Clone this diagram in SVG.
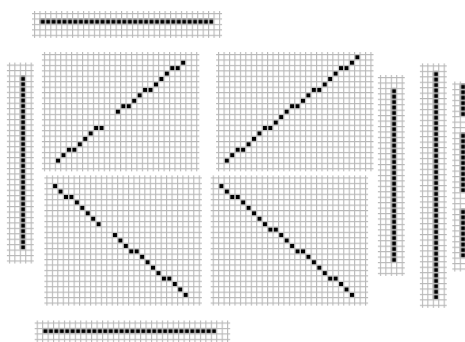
<svg xmlns="http://www.w3.org/2000/svg" width="465" height="342" viewBox="0 0 465 342">
<defs>
<pattern id="grid" width="1" height="1" patternUnits="userSpaceOnUse"><path d="M0 0h1v.2H.2V1H0z" fill="#b8b8b8"/></pattern>
<pattern id="sq" width="1" height="1" patternUnits="userSpaceOnUse"><rect x=".23" y=".23" width=".74" height=".74" fill="#000"/></pattern>
<rect id="s" x=".23" y=".23" width=".74" height=".74" fill="#000"/>
</defs>
<style>.bg{fill:url(#grid)}.run{fill:url(#sq)}</style>
<rect width="465" height="342" fill="#fff"/>

<g id="bar-top" transform="translate(34 13) scale(5.44)">
<rect class="bg" x="-.37" y="-.37" width="34.94" height="4.94"/>
<rect class="run" x="1" y="1" width="32" height="1"/>
</g>

<g id="bar-bottom" transform="translate(36.7 322.5) scale(5.44)">
<rect class="bg" x="-.37" y="-.37" width="35.94" height="4.94"/>
<rect class="run" x="1" y="1" width="32" height="1"/>
</g>

<g id="bar-left" transform="translate(8.9 64.6) scale(5.44)">
<rect class="bg" x="-.37" y="-.37" width="4.94" height="36.94"/>
<rect class="run" x="2" y="2" width="1" height="32"/>
</g>

<g id="bar-right-a" transform="translate(379.9 77) scale(5.44)">
<rect class="bg" x="-.37" y="-.37" width="4.94" height="36.94"/>
<rect class="run" x="2" y="2" width="1" height="32"/>
</g>

<g id="bar-right-b" transform="translate(421.9 65.4) scale(5.44)">
<rect class="bg" x="-.37" y="-.37" width="4.94" height="44.94"/>
<rect class="run" x="2" y="1" width="1" height="42"/>
</g>

<g id="bar-right-c" transform="translate(454.3 83.5) scale(5.44)">
<rect class="bg" x="-.37" y="-.37" width="4.94" height="34.94"/>
<rect class="run" x="1" y="0" width="1" height="6"/>
<rect class="run" x="1" y="9" width="1" height="11"/>
<rect class="run" x="1" y="23" width="1" height="9"/>
</g>

<g id="grid-1" transform="translate(43.9 54) scale(5.44)">
<rect class="bg" x="-.37" y="-.37" width="28.94" height="21.94"/>
<use href="#s" x="2" y="19"/><use href="#s" x="3" y="18"/><use href="#s" x="4" y="17"/><use href="#s" x="5" y="17"/>
<use href="#s" x="6" y="16"/><use href="#s" x="7" y="15"/><use href="#s" x="8" y="14"/><use href="#s" x="9" y="13"/>
<use href="#s" x="10" y="13"/><use href="#s" x="13" y="10"/><use href="#s" x="14" y="9"/><use href="#s" x="15" y="9"/>
<use href="#s" x="16" y="8"/><use href="#s" x="17" y="7"/><use href="#s" x="18" y="6"/><use href="#s" x="19" y="6"/>
<use href="#s" x="20" y="5"/><use href="#s" x="21" y="4"/><use href="#s" x="22" y="3"/><use href="#s" x="23" y="2"/>
<use href="#s" x="24" y="2"/><use href="#s" x="25" y="1"/>
</g>

<g id="grid-2" transform="translate(218.1 54) scale(5.44)">
<rect class="bg" x="-.37" y="-.37" width="28.94" height="21.94"/>
<use href="#s" x="1" y="19"/><use href="#s" x="2" y="18"/><use href="#s" x="3" y="17"/><use href="#s" x="4" y="17"/>
<use href="#s" x="5" y="16"/><use href="#s" x="6" y="15"/><use href="#s" x="7" y="14"/><use href="#s" x="8" y="13"/>
<use href="#s" x="9" y="13"/><use href="#s" x="10" y="12"/><use href="#s" x="11" y="11"/><use href="#s" x="12" y="10"/>
<use href="#s" x="13" y="9"/><use href="#s" x="14" y="9"/><use href="#s" x="15" y="8"/><use href="#s" x="16" y="7"/>
<use href="#s" x="17" y="6"/><use href="#s" x="18" y="6"/><use href="#s" x="19" y="5"/><use href="#s" x="20" y="4"/>
<use href="#s" x="21" y="3"/><use href="#s" x="22" y="2"/><use href="#s" x="23" y="2"/><use href="#s" x="24" y="1"/>
<use href="#s" x="25" y="0"/>
</g>

<g id="grid-3" transform="translate(46.4 177.4) scale(5.44)">
<rect class="bg" x="-.37" y="-.37" width="28.94" height="23.94"/>
<use href="#s" x="1" y="1"/><use href="#s" x="2" y="2"/><use href="#s" x="3" y="3"/><use href="#s" x="4" y="3"/>
<use href="#s" x="5" y="4"/><use href="#s" x="6" y="5"/><use href="#s" x="7" y="6"/><use href="#s" x="8" y="7"/>
<use href="#s" x="9" y="8"/><use href="#s" x="12" y="10"/><use href="#s" x="13" y="11"/><use href="#s" x="14" y="12"/>
<use href="#s" x="15" y="13"/><use href="#s" x="16" y="13"/><use href="#s" x="17" y="14"/><use href="#s" x="18" y="15"/>
<use href="#s" x="19" y="16"/><use href="#s" x="20" y="17"/><use href="#s" x="21" y="18"/><use href="#s" x="22" y="18"/>
<use href="#s" x="23" y="19"/><use href="#s" x="24" y="20"/><use href="#s" x="25" y="21"/>
</g>

<g id="grid-4" transform="translate(212.7 177.4) scale(5.44)">
<rect class="bg" x="-.37" y="-.37" width="28.94" height="23.94"/>
<use href="#s" x="1" y="1"/><use href="#s" x="2" y="2"/><use href="#s" x="3" y="3"/><use href="#s" x="4" y="3"/>
<use href="#s" x="5" y="4"/><use href="#s" x="6" y="5"/><use href="#s" x="7" y="6"/><use href="#s" x="8" y="7"/>
<use href="#s" x="9" y="8"/><use href="#s" x="10" y="9"/><use href="#s" x="11" y="9"/><use href="#s" x="12" y="10"/>
<use href="#s" x="13" y="11"/><use href="#s" x="14" y="12"/><use href="#s" x="15" y="13"/><use href="#s" x="16" y="13"/>
<use href="#s" x="17" y="14"/><use href="#s" x="18" y="15"/><use href="#s" x="19" y="16"/><use href="#s" x="20" y="17"/>
<use href="#s" x="21" y="18"/><use href="#s" x="22" y="18"/><use href="#s" x="23" y="19"/><use href="#s" x="24" y="20"/>
<use href="#s" x="25" y="21"/>
</g>
</svg>
